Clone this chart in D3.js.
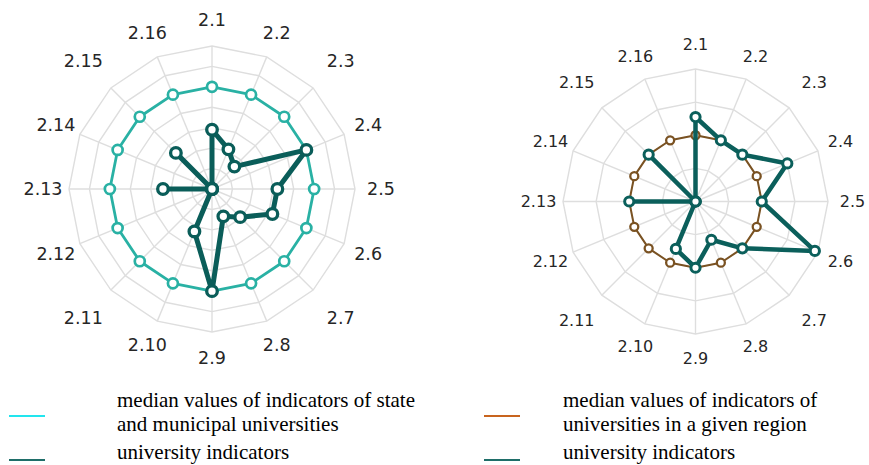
<!DOCTYPE html>
<html>
<head>
<meta charset="utf-8">
<script src="https://cdn.jsdelivr.net/npm/d3@7"></script>
<style>
  html, body { margin: 0; padding: 0; background: #fff; }
  svg { display: block; }
</style>
</head>
<body>
<div id="chart"></div>
<script>
// radar charts: university indicators vs medians

const AXES = ["2.1", "2.2", "2.3", "2.4", "2.5", "2.6", "2.7", "2.8",
              "2.9", "2.10", "2.11", "2.12", "2.13", "2.14", "2.15", "2.16"];

// left chart
const LEFT_RINGS  = [1, 2, 3, 4, 5, 6, 7];
const LEFT_MEDIAN = [5, 5, 5, 5, 5, 5, 5, 5, 5, 5, 5, 5, 5, 5, 5, 5];
const LEFT_UNIV   = [2.9, 2.1, 1.55, 5.0, 3.2, 3.2, 1.95, 1.45, 5.0, 2.25, 0, 0, 2.4, 0, 2.5, 0];

// right chart
const RIGHT_RINGS  = [1, 2, 3, 4];
const RIGHT_MEDIAN = [2, 2, 2, 2, 2, 2, 2, 2, 2, 2, 2, 2, 2, 2, 2, 2];
const RIGHT_UNIV   = [2.55, 2.0, 2.0, 3.0, 2.0, 3.9, 2.0, 1.25, 2.0, 1.55, 0, 0, 2.0, 0, 2.0, 0];

// legend texts
const LEGEND_LEFT  = ["median values of indicators of state", "and municipal universities", "university indicators"];
const LEGEND_RIGHT = ["median values of indicators of", "universities in a given region", "university indicators"];

const W = 869, H = 465;

const svg = d3.select("#chart").append("svg")
  .attr("width", W)
  .attr("height", H);

svg.append("rect").attr("width", W).attr("height", H).attr("fill", "#fff");

const angle = d3.scalePoint().domain(AXES).range([0, 2 * Math.PI * 15 / 16]);

function drawRadar(opt) {
  const g = svg.append("g").attr("transform", `translate(${opt.cx},${opt.cy})`);
  const r = d3.scaleLinear().domain([0, d3.max(opt.rings)]).range([0, opt.radius]);

  // grid rings
  const ringLine = d3.lineRadial()
    .angle(d => angle(d))
    .curve(d3.curveLinearClosed);
  opt.rings.forEach(v => {
    g.append("path")
      .attr("d", ringLine.radius(() => r(v))(AXES))
      .attr("fill", "none")
      .attr("stroke", "#dedede")
      .attr("stroke-width", 1.4);
  });

  // spokes
  g.selectAll(".spoke")
    .data(AXES)
    .enter()
    .append("line")
    .attr("x1", 0).attr("y1", 0)
    .attr("x2", d => r.range()[1] * Math.sin(angle(d)))
    .attr("y2", d => -r.range()[1] * Math.cos(angle(d)))
    .attr("stroke", "#dedede")
    .attr("stroke-width", 1.4);

  // labels
  const labelPos = a => opt.labelR + opt.labelExtra * Math.max(0, -Math.cos(4 * a));
  g.selectAll(".lbl")
    .data(AXES)
    .enter()
    .append("text")
    .attr("x", d => labelPos(angle(d)) * Math.sin(angle(d)))
    .attr("y", d => -labelPos(angle(d)) * Math.cos(angle(d)))
    .attr("dy", "0.36em")
    .attr("text-anchor", "middle")
    .attr("font-family", "DejaVu Sans, Verdana, sans-serif")
    .attr("font-size", opt.fontSize)
    .attr("fill", "#262626")
    .text(d => d);

  // series
  opt.series.forEach(s => {
    const pts = AXES.map((a, i) => ({ a, v: s.values[i] }));
    const line = d3.lineRadial()
      .angle(d => angle(d.a))
      .radius(d => r(d.v))
      .curve(d3.curveLinearClosed);

    g.append("path")
      .attr("d", line(pts))
      .attr("fill", "none")
      .attr("stroke", s.color)
      .attr("stroke-width", s.width)
      .attr("stroke-linejoin", "round");

    g.selectAll(null)
      .data(pts)
      .enter()
      .append("circle")
      .attr("cx", d => r(d.v) * Math.sin(angle(d.a)))
      .attr("cy", d => -r(d.v) * Math.cos(angle(d.a)))
      .attr("r", s.dotR)
      .attr("fill", "#fff")
      .attr("stroke", s.color)
      .attr("stroke-width", s.dotStroke);
  });
}

drawRadar({
  cx: 212, cy: 189, radius: 143, rings: LEFT_RINGS,
  labelR: 169, labelExtra: 13, fontSize: 17.5,
  series: [
    { values: LEFT_MEDIAN, color: "#29b1a4", width: 2.8, dotR: 5, dotStroke: 2.7 },
    { values: LEFT_UNIV,   color: "#0a5d59", width: 5,   dotR: 5.3, dotStroke: 3.3 }
  ]
});

drawRadar({
  cx: 695.5, cy: 201.5, radius: 132.5, rings: RIGHT_RINGS,
  labelR: 157, labelExtra: 11, fontSize: 16,
  series: [
    { values: RIGHT_MEDIAN, color: "#7a5222", width: 2,   dotR: 4, dotStroke: 2.3 },
    { values: RIGHT_UNIV,   color: "#0b5f5b", width: 4.5, dotR: 4.6, dotStroke: 3 }
  ]
});

// legend
function drawLegend(x, lineX, texts, topColor) {
  const lg = svg.append("g");
  lg.append("line")
    .attr("x1", lineX).attr("x2", lineX + 36)
    .attr("y1", 416).attr("y2", 416)
    .attr("stroke", topColor).attr("stroke-width", 2);
  lg.append("line")
    .attr("x1", lineX).attr("x2", lineX + 36)
    .attr("y1", 460).attr("y2", 460)
    .attr("stroke", "#1f6e69").attr("stroke-width", 2);
  const ys = [407, 431, 459];
  texts.forEach((t, i) => {
    lg.append("text")
      .attr("x", x).attr("y", ys[i])
      .attr("font-family", "Liberation Serif, Times New Roman, serif")
      .attr("font-size", 21)
      .attr("fill", "#000")
      .text(t);
  });
}

drawLegend(117, 9, LEGEND_LEFT, "#22e5ee");
drawLegend(563, 484, LEGEND_RIGHT, "#c8641e");
</script>
</body>
</html>
